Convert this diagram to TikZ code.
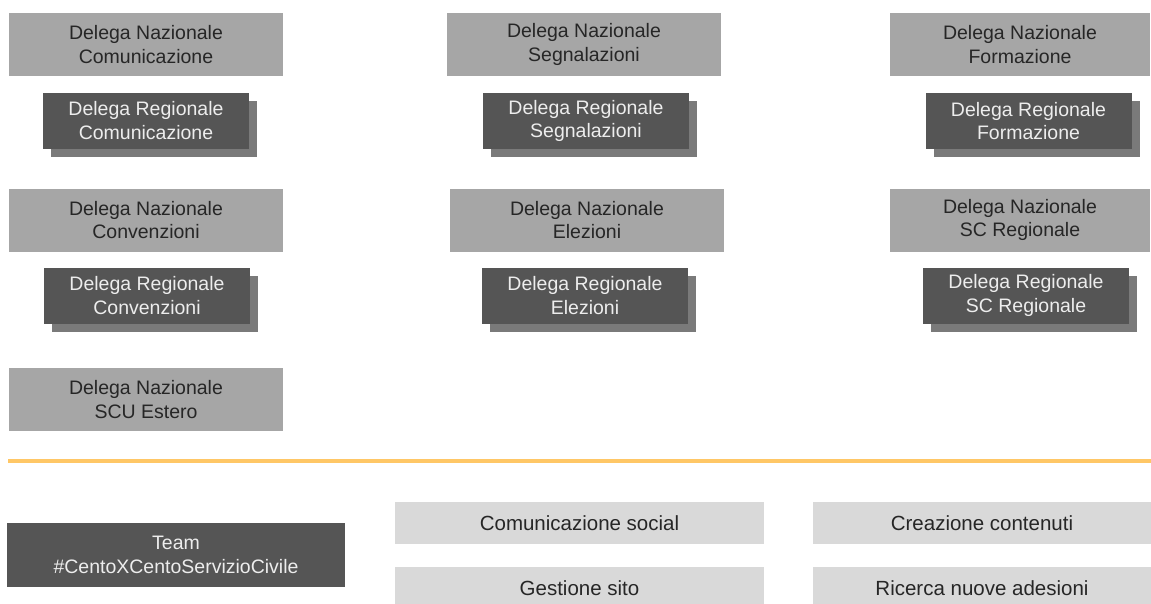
\documentclass[tikz,border=0pt]{standalone}
\usepackage{fontspec}
\setmainfont{Liberation Sans}
\usetikzlibrary{shadows}
\definecolor{nazgray}{HTML}{A6A6A6}
\definecolor{reggray}{HTML}{555555}
\definecolor{regshade}{HTML}{7A7A7A}
\definecolor{taskgray}{HTML}{D9D9D9}
\definecolor{lineorange}{HTML}{FFC766}

\tikzset{
  nazbox/.style={fill=nazgray, text=black!85, minimum width=274pt, minimum height=63pt,
    inner sep=0pt, align=center, font=\fontsize{19.5}{23.5}\selectfont},
  regbox/.style={fill=reggray, text=white!93!black, minimum width=206pt, minimum height=56pt,
    inner sep=0pt, align=center, font=\fontsize{19.5}{23.5}\selectfont,
    copy shadow={shadow xshift=8pt, shadow yshift=-8pt, fill=regshade, draw=none}},
  taskbox/.style={fill=taskgray, text=black!85, minimum height=42pt,
    inner sep=0pt, font=\fontsize{20.5}{24}\selectfont},
}

\begin{document}
\begin{tikzpicture}[x=1pt, y=-1pt]

\useasboundingbox[fill=white] (0,0) rectangle (1151,603);

% nazionali e regionali
\node[nazbox] (nazcom) at (146,44.5) {Delega Nazionale\\Comunicazione};
\node[regbox] (regcom) at (146,120.5) {Delega Regionale\\Comunicazione};

\node[nazbox] (nazsegn) at (584,44.5) {Delega Nazionale\\Segnalazioni};
\node[regbox] (regsegn) at (586,121) {Delega Regionale\\Segnalazioni};

\node[nazbox, minimum width=260pt] (nazform) at (1020,44.5) {Delega Nazionale\\Formazione};
\node[regbox] (regform) at (1028.5,121) {Delega Regionale\\Formazione};

\node[nazbox] (nazconv) at (146,220) {Delega Nazionale\\Convenzioni};
\node[regbox] (regconv) at (147,295.5) {Delega Regionale\\Convenzioni};

\node[nazbox] (nazelez) at (587,220) {Delega Nazionale\\Elezioni};
\node[regbox] (regelez) at (585,295.5) {Delega Regionale\\Elezioni};

\node[nazbox, minimum width=260pt] (nazsc) at (1020,220) {Delega Nazionale\\SC Regionale};
\node[regbox] (regsc) at (1026,295.5) {Delega Regionale\\SC Regionale};

\node[nazbox] (nazscu) at (146,399.5) {Delega Nazionale\\SCU Estero};

% separatore
\coordinate (sepl) at (8,461);
\coordinate (sepr) at (1151,461);
\draw[lineorange, line width=4pt] (sepl) -- (sepr);

% team
\node[fill=reggray, text=white!93!black, minimum width=338pt, minimum height=64pt,
  inner sep=0pt, align=center, font=\fontsize{19.5}{23.5}\selectfont]
  (team) at (176,555) {Team\\\#CentoXCentoServizioCivile};

\node[taskbox, minimum width=369pt] (social) at (579.5,523) {Comunicazione social};
\node[taskbox, minimum width=338pt] (contenuti) at (982,523) {Creazione contenuti};
\node[taskbox, minimum width=369pt] (sito) at (579.5,588) {Gestione sito};
\node[taskbox, minimum width=338pt] (adesioni) at (982,588) {Ricerca nuove adesioni};

\end{tikzpicture}
\end{document}
